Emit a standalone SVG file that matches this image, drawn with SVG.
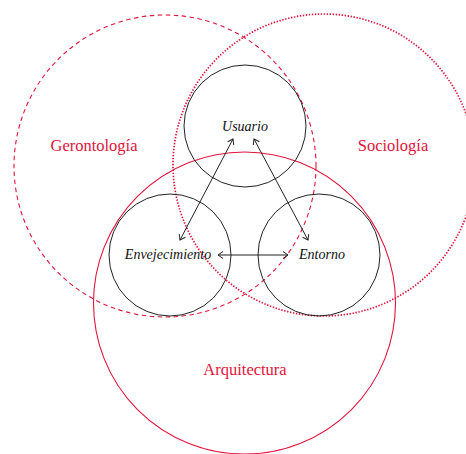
<svg xmlns="http://www.w3.org/2000/svg" width="466" height="454" viewBox="0 0 466 454">
<style>
.field{fill:none;stroke:#e0143c;stroke-width:1.1}
.dash{stroke-dasharray:4.5 3.5}
.dot{stroke-dasharray:1.4 1.6;stroke-width:1.7}
.node{fill:none;stroke:#222;stroke-width:1}
.lab{font-style:italic;font-size:14px;fill:#111;text-anchor:middle}
.flab{font-size:16.5px;fill:#e0143c;text-anchor:middle}
.conn{stroke:#222;stroke-width:1;fill:none;marker-start:url(#ah);marker-end:url(#ah)}
</style>
<defs>
<marker id="ah" viewBox="-6 -4 7 8" markerWidth="7" markerHeight="8" refX="0" refY="0" orient="auto-start-reverse" markerUnits="userSpaceOnUse">
<path d="M-5,-3.5 L0,0 L-5,3.5" fill="none" stroke="#222" stroke-width="1"/>
</marker>
</defs>
<g id="gerontologia">
<circle class="field dash" cx="165" cy="166" r="151"/>
<text class="flab" font-family="Liberation Serif, serif" x="94" y="151">Gerontología</text>
</g>
<g id="sociologia">
<circle class="field dot" cx="324" cy="165" r="151"/>
<text class="flab" font-family="Liberation Serif, serif" x="393" y="151">Sociología</text>
</g>
<g id="arquitectura">
<circle class="field" cx="244.5" cy="303" r="151"/>
<text class="flab" font-family="Liberation Serif, serif" x="245" y="375">Arquitectura</text>
</g>
<g id="usuario">
<circle class="node" cx="245" cy="126" r="61"/>
<text class="lab" font-family="Liberation Serif, serif" x="245" y="131">Usuario</text>
</g>
<g id="envejecimiento">
<circle class="node" cx="170" cy="255" r="61"/>
<text class="lab" font-family="Liberation Serif, serif" x="168" y="259">Envejecimiento</text>
</g>
<g id="entorno">
<circle class="node" cx="319" cy="255" r="61"/>
<text class="lab" font-family="Liberation Serif, serif" x="322" y="259">Entorno</text>
</g>
<g id="connectors">
<line class="conn" x1="233" y1="139" x2="180" y2="240"/>
<line class="conn" x1="254" y1="139" x2="308" y2="240"/>
<line class="conn" x1="218" y1="255" x2="288" y2="255"/>
</g>
</svg>
